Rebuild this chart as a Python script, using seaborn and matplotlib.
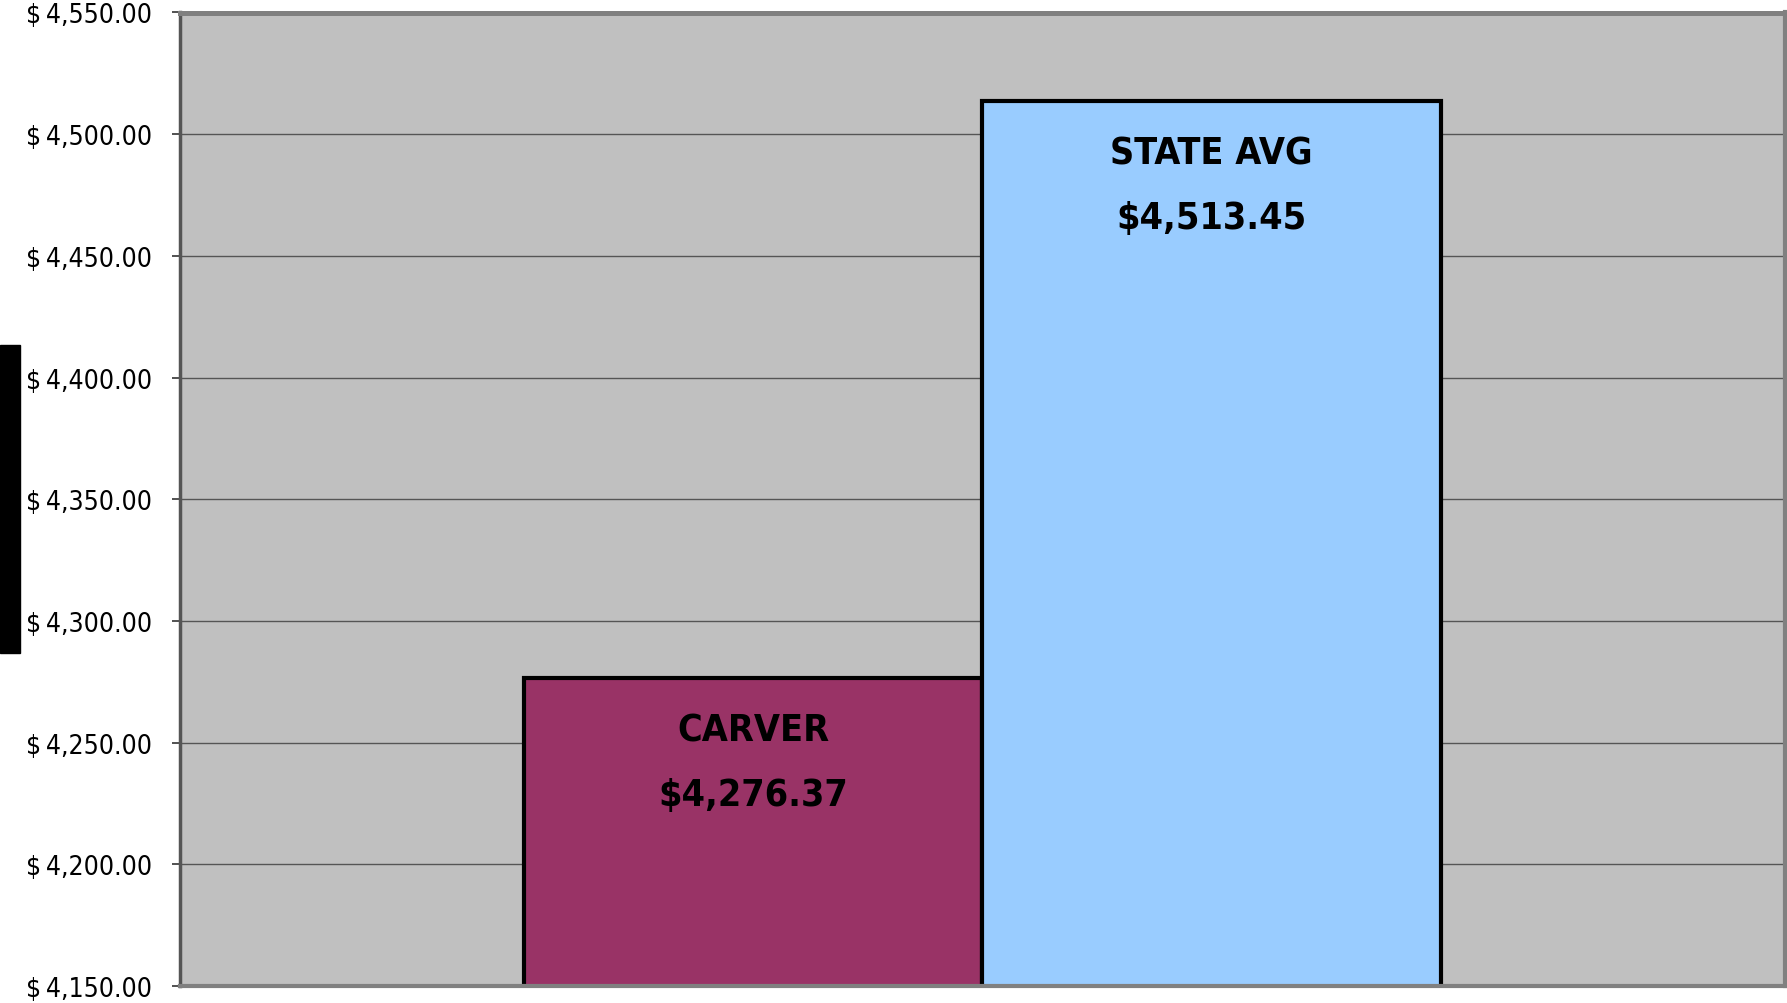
import numpy as np
import pandas as pd
import seaborn as sns
import matplotlib.pyplot as plt
from matplotlib.patches import Rectangle

# data
names = ["CARVER", "STATE AVG"]
values = [4276.37, 4513.45]
bar_colors = ["#993366", "#99CCFF"]
y_ticks = [4150, 4200, 4250, 4300, 4350, 4400, 4450, 4500, 4550]

sns.set_style("white")
plt.rcParams['font.family'] = ['DejaVu Sans']
plt.rcParams['font.stretch'] = 'condensed'

df = pd.DataFrame({"name": names, "value": values})

fig = plt.figure(figsize=(17.87, 10.04), dpi=100)
ax = fig.add_axes([180 / 1787, 17 / 1004, 1605 / 1787, 973.5 / 1004])
ax.set_facecolor("#C0C0C0")

sns.barplot(data=df, x="name", y="value", hue="name", palette=bar_colors,
            width=1.0, edgecolor="black", linewidth=3, legend=False, ax=ax,
            saturation=1, zorder=2)

ax.set_xlim(-1.25, 2.25)
ax.set_ylim(4150, 4550)
ax.set_yticks(y_ticks)
ax.set_yticklabels([f"$\u2009{v:,.2f}" for v in y_ticks], fontsize=19,
                   fontstretch="condensed", color="black")
ax.set_xticks([])
ax.set_xlabel("")
ax.set_ylabel("")
ax.yaxis.grid(True, color="#555555", linewidth=1.0, zorder=1)
ax.set_axisbelow(True)
ax.tick_params(axis="y", length=6, width=1.2, color="#333333", pad=14, left=True)

ax.spines["top"].set_color("#808080")
ax.spines["top"].set_linewidth(3.6)
ax.spines["right"].set_color("#808080")
ax.spines["right"].set_linewidth(3)
ax.spines["bottom"].set_color("#808080")
ax.spines["bottom"].set_linewidth(3)
ax.spines["left"].set_color("#555555")
ax.spines["left"].set_linewidth(2.5)
for s in ax.spines.values():
    s.set_zorder(5)

for i, (n, v) in enumerate(zip(names, values)):
    ax.text(i, v - 21.5, n, ha="center", va="center",
            fontsize=27, fontweight="bold", fontstretch="condensed",
            color="black", zorder=4)
    ax.text(i, v - 48, f"${v:,.2f}", ha="center", va="center",
            fontsize=27, fontweight="bold", fontstretch="condensed",
            color="black", zorder=4)

# black block at left edge
fig.add_artist(Rectangle((0, 350 / 1004), 20 / 1787, 308 / 1004,
                         transform=fig.transFigure, color="black"))

fig.savefig("out.png", dpi=100)
